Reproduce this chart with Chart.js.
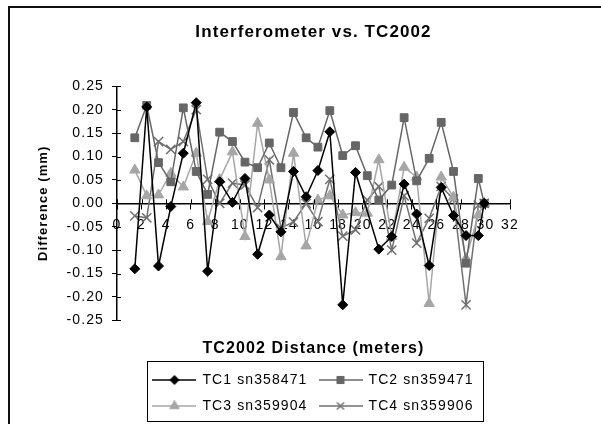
<!DOCTYPE html>
<html>
<head>
<meta charset="utf-8">
<script src="https://cdn.jsdelivr.net/npm/chart.js@4.4.1/dist/chart.umd.min.js"></script>
<style>
html, body { margin: 0; padding: 0; background: #fff; }
#wrap { position: relative; width: 601px; height: 424px; overflow: hidden; background: #fff; }
#frame { position: absolute; left: 8px; top: 6px; width: 800px; height: 600px; border-left: 2px solid #111; border-top: 2px solid #111; }
#c { position: absolute; left: 0; top: 0; }
</style>
</head>
<body>
<div id="wrap"><div id="frame"></div><canvas id="c" width="601" height="424"></canvas></div>
<script>
// ---- data ----
const distances = [1.45, 2.42, 3.38, 4.38, 5.4, 6.45, 7.38, 8.36, 9.4, 10.42, 11.45, 12.4, 13.35, 14.37, 15.4, 16.36, 17.33, 18.38, 19.42, 20.38, 21.32, 22.37, 23.38, 24.4, 25.42, 26.4, 27.4, 28.42, 29.42, 29.9];
const tc1 = [-0.140, 0.206, -0.134, -0.007, 0.107, 0.215, -0.145, 0.046, 0.002, 0.053, -0.109, -0.025, -0.061, 0.068, 0.014, 0.070, 0.153, -0.217, 0.066, null, -0.098, -0.071, 0.041, -0.023, -0.133, 0.034, -0.026, -0.069, -0.069, 0.000];
const tc2 = [0.140, 0.209, 0.087, 0.046, 0.204, 0.068, 0.019, 0.152, 0.132, 0.088, 0.076, 0.129, 0.076, 0.194, 0.140, 0.120, 0.198, 0.102, 0.123, 0.059, 0.007, 0.039, 0.183, 0.048, 0.096, 0.173, 0.068, -0.128, 0.053, 0.000];
const tc3 = [0.071, 0.016, 0.018, 0.064, 0.035, 0.107, -0.039, 0.051, 0.110, -0.071, 0.171, 0.050, -0.114, 0.107, -0.091, 0.007, 0.016, -0.025, -0.020, -0.021, 0.093, -0.071, 0.077, 0.056, -0.214, 0.056, 0.013, -0.118, -0.025, 0.000];
const tc4 = [-0.027, -0.031, 0.132, 0.115, 0.132, 0.200, 0.051, 0.000, 0.043, 0.039, -0.009, 0.093, -0.053, -0.040, 0.000, -0.039, 0.051, -0.070, -0.057, 0.007, 0.036, -0.100, 0.016, -0.085, -0.032, 0.036, 0.009, -0.217, -0.004, 0.000];
const seriesNames = ['TC1 sn358471', 'TC2 sn359471', 'TC3 sn359904', 'TC4 sn359906'];
const chartTitle = 'Interferometer vs. TC2002';
const xTitle = 'TC2002 Distance (meters)';
const yTitle = 'Difference (mm)';
const xRange = [0, 32, 2];
const yRange = [-0.25, 0.25, 0.05];

// ---- styles ----
const FONT = "'Liberation Sans', Arial, Helvetica, sans-serif";
const LS = '1.1px';
const styles = [
  { color: '#000000', point: 'rectRot', radius: 5, lw: 1.5, pw: 1, legendRadius: 4.5 },
  { color: '#666666', point: 'rect', radius: 5.5, lw: 1.5, pw: 1, legendRadius: 5 },
  { color: '#a6a6a6', point: 'triangle', radius: 6, lw: 1.5, pw: 1, legendRadius: 5.5 },
  { color: '#707070', point: 'crossRot', radius: 6.5, lw: 1.5, pw: 1.5, legendRadius: 5 }
];

Chart.defaults.font.family = FONT;
Chart.defaults.color = '#000';

function toPoints(ys) { return distances.map((d, i) => ({ x: d, y: ys[i] })); }
const allSeries = [tc1, tc2, tc3, tc4];

function makeIcon(st) {
  const c = document.createElement('canvas');
  c.width = 44; c.height = 14;
  const g = c.getContext('2d');
  g.strokeStyle = st.color; g.fillStyle = st.color; g.lineWidth = st.lw;
  g.beginPath(); g.moveTo(0, 7); g.lineTo(44, 7); g.stroke();
  g.lineWidth = st.pw;
  if (Chart.helpers && Chart.helpers.drawPoint) {
    Chart.helpers.drawPoint(g, { pointStyle: st.point, radius: st.legendRadius, rotation: 0, borderWidth: st.pw }, 22, 7);
  }
  return c;
}
const icons = styles.map(makeIcon);

const datasets = allSeries.map((ys, i) => ({
  label: seriesNames[i],
  data: toPoints(ys),
  showLine: true,
  spanGaps: true,
  tension: 0,
  borderColor: styles[i].color,
  backgroundColor: styles[i].color,
  borderWidth: styles[i].lw,
  pointStyle: styles[i].point,
  pointRadius: styles[i].radius,
  pointBorderWidth: styles[i].pw,
  pointBackgroundColor: styles[i].color,
  pointBorderColor: styles[i].color
}));

const decor = {
  id: 'decor',
  beforeUpdate(chart) { chart.ctx.letterSpacing = LS; },
  beforeLayout(chart) { chart.ctx.letterSpacing = LS; },
  beforeDraw(chart) { chart.ctx.letterSpacing = LS; },
  afterDraw(chart) {
    const { ctx, scales: { x, y } } = chart;
    ctx.save();
    ctx.strokeStyle = '#000';
    ctx.lineWidth = 1;
    const y0 = y.getPixelForValue(0);
    ctx.beginPath();
    x.ticks.forEach(t => {
      const px = Math.round(x.getPixelForValue(t.value)) + 0.5;
      ctx.moveTo(px, y0 - 4); ctx.lineTo(px, y0);
    });
    y.ticks.forEach(t => {
      const py = Math.round(y.getPixelForValue(t.value)) + 0.5;
      ctx.moveTo(y.right, py); ctx.lineTo(y.right + 4, py);
    });
    ctx.stroke();
    const lg = chart.legend;
    if (lg && lg.legendHitBoxes && lg.legendHitBoxes.length) {
      let l = Infinity, r = -Infinity;
      lg.legendHitBoxes.forEach(h => { l = Math.min(l, h.left); r = Math.max(r, h.left + h.width); });
      ctx.strokeRect(Math.round(l - 6) + 0.5, Math.round(lg.top) + 0.5, Math.round(r - l + 16), Math.round(lg.height - 2));
    }
    ctx.restore();
  }
};

new Chart(document.getElementById('c'), {
  type: 'scatter',
  data: { datasets },
  plugins: [decor],
  options: {
    responsive: false,
    animation: false,
    devicePixelRatio: 1,
    layout: { padding: { left: 0, right: 91, top: 0, bottom: 1 } },
    plugins: {
      tooltip: { enabled: false },
      title: {
        display: true, text: chartTitle, fullSize: false, color: '#000',
        font: { family: FONT, size: 17, weight: 'bold' },
        padding: { top: 22, bottom: 43.9 }
      },
      subtitle: {
        display: true, text: xTitle, position: 'bottom', fullSize: false, weight: 500, color: '#000',
        font: { family: FONT, size: 16, weight: 'bold' },
        padding: { top: 19, bottom: 2.5 }
      },
      legend: {
        display: true, position: 'bottom', fullSize: false,
        labels: {
          usePointStyle: true, pointStyleWidth: 42, padding: 12, color: '#000',
          font: { family: FONT, size: 14 },
          generateLabels(chart) {
            const items = Chart.defaults.plugins.legend.labels.generateLabels(chart);
            items.forEach((it, i) => { it.pointStyle = icons[i]; it.fontColor = '#000'; });
            return items;
          }
        }
      }
    },
    scales: {
      x: {
        type: 'linear', min: xRange[0], max: xRange[1], position: { y: 0 },
        ticks: { stepSize: xRange[2], color: '#000', font: { family: FONT, size: 14 }, padding: 8, maxRotation: 0, autoSkip: false },
        grid: { drawOnChartArea: false, drawTicks: true, tickLength: 5, tickColor: '#000', tickWidth: 1 },
        border: { color: '#000', width: 1.5 }
      },
      y: {
        type: 'linear', min: yRange[0], max: yRange[1],
        ticks: {
          stepSize: yRange[2], color: '#000', font: { family: FONT, size: 14 }, padding: 8,
          callback: v => (Math.abs(v) < 1e-9 ? 0 : v).toFixed(2)
        },
        grid: { drawOnChartArea: false, drawTicks: true, tickLength: 5, tickColor: '#000', tickWidth: 1 },
        border: { color: '#000', width: 1.5 },
        title: { display: true, text: yTitle, color: '#000', font: { family: FONT, size: 13, weight: 'bold' }, padding: { top: 36, bottom: 0 } },
        afterFit(s) { s.width = 117; }
      }
    }
  }
});
</script>
</body>
</html>
